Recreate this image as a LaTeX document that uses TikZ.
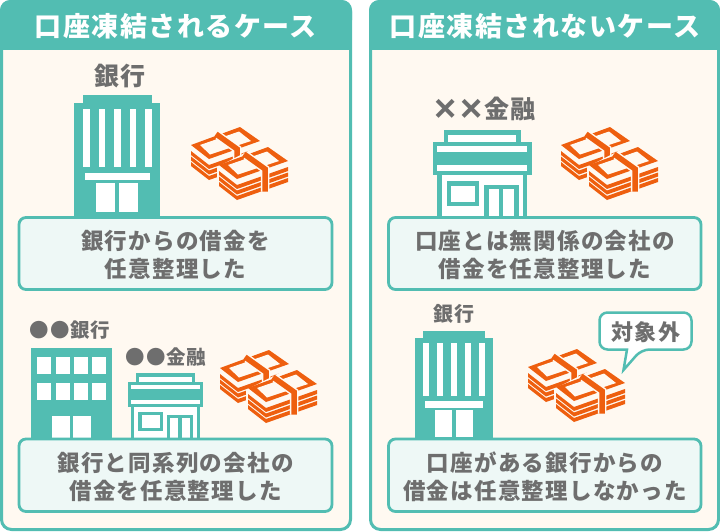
\documentclass[tikz,border=0pt]{standalone}
\usepackage{fontspec}
\setmainfont{Noto Sans CJK JP}
\newfontfamily\crossfont{Liberation Sans}
\usetikzlibrary{positioning}
\definecolor{teal1}{HTML}{52BDB2}
\definecolor{cream1}{HTML}{FFF9F1}
\definecolor{pale1}{HTML}{EEF8F6}
\definecolor{gray1}{HTML}{6E6E6E}
\definecolor{money1}{HTML}{EE5F0F}
\newcommand{\spaced}[2]{\fontsize{#1}{28}\selectfont\addfontfeature{LetterSpace=#2}\bfseries}
\newcommand{\bigcross}{\makebox[26pt]{\raisebox{-3pt}{\fontsize{38}{38}\crossfont\bfseries ×}}}
\tikzset{
    panel/.style={draw=teal1, line width=3pt, fill=cream1, rounded corners=10pt},
    header/.style={fill=teal1, rounded corners=10pt},
    textbox/.style={draw=teal1, line width=2.8pt, fill=pale1, rounded corners=7pt},
    title/.style={text=white, inner sep=0pt, font=\spaced{27}{5.5}},
    caption/.style={text=gray1, inner sep=0pt, align=center, font=\spaced{22.5}{5.5}},
    tag/.style={text=gray1, inner sep=0pt},
    moneystack/.pic={
        \fill[money1] (0,0) -- (49,-18) -- (69,-4) -- (18,14) -- cycle;
        \fill[cream1] (9,0) -- (48,-13.5) -- (60,-4) -- (19,9.5) -- cycle;
        \foreach \h in {6,11.5,17} {
            \fill[money1] (0,\h) -- (18,14+\h) -- (69,-4+\h) -- (69,\h) -- (18,18+\h) -- (0,4+\h) -- cycle;
        }
        \draw[cream1, line width=8.5pt] (27,-9.5) -- (46,4) -- (46,26.5);
        \draw[money1, line width=5.5pt] (25,-11) -- (46,4) -- (46,26.5);
    },
    moneypile/.pic={
        \pic at (0,0) {moneystack};
        \fill[cream1] (26,22) -- (26,42) -- (46,55) -- (99,38) -- (99,10) -- (77,-4) -- cycle;
        \pic at (28,20) {moneystack};
    },
    towerbank/.pic={
        \fill[teal1] (8.7,0) rectangle (77.7,8);
        \fill[teal1] (0,8) rectangle (86,121);
        \foreach \x in {9,24.5,40,55.5,71} {
            \fill[white] (\x,13.7) rectangle (\x+6.5,71.7);
        }
        \fill[white] (10.7,78) rectangle (75.7,85);
        \fill[white] (21.7,88) rectangle (41,117);
        \fill[white] (45.3,88) rectangle (64.3,117);
    },
    shopfront/.pic={
        \fill[teal1] (11,0) rectangle (87.7,17);
        \fill[white] (15.3,5) rectangle (83.3,11.7);
        \fill[teal1] (0,11.7) rectangle (98.7,45);
        \fill[white] (4.3,16) rectangle (94.3,21.7);
        \fill[white] (4.3,35.3) rectangle (94.3,41);
        \fill[teal1] (4.3,45) rectangle (94.3,86);
        \fill[white] (8.7,45) rectangle (90,86);
        \fill[teal1] (14,51.3) rectangle (46,76);
        \fill[white] (18.3,55.7) rectangle (42,71.7);
        \fill[teal1] (51.3,54.7) rectangle (85.7,86);
        \fill[white] (55.7,59) rectangle (66,86);
        \fill[white] (70.3,59) rectangle (81.3,86);
    },
}
\begin{document}
\begin{tikzpicture}[x=1pt, y=-1pt]
    \useasboundingbox (0,0) rectangle (720,531);
    % left side
    \draw[panel] (1.5,1.5) rectangle (350.5,529.5);
    \fill[header] (0,0) rectangle (352,30);
    \fill[teal1] (0,20) rectangle (352,50);
    \node (lefttitle) at (176,26) [title] {口座凍結されるケース};
    \node (banklabel) at (120,76) [tag, font=\spaced{25}{4}] {銀行};
    \pic at (74,95) {towerbank};
    \pic at (191,145) {moneypile};
    \draw[textbox] (19,217.5) rectangle (332,289.5);
    \node (case1) at (175.5,255) [caption] {銀行からの借金を\\任意整理した};
    \node (group1) at (70,330) [tag, font=\spaced{19.5}{4}] {●●銀行};
    \fill[teal1] (31,347.7) rectangle (112.3,440);
    \foreach \x in {37.3,55.7,74,92.3} {
        \fill[white] (\x,357.3) rectangle (\x+14,374);
        \fill[white] (\x,383.3) rectangle (\x+14,400);
    }
    \fill[white] (52,415.7) rectangle (70.3,440);
    \fill[white] (73,415.7) rectangle (91.3,440);
    \node (group2) at (166,357) [tag, font=\spaced{19.5}{4}] {●●金融};
    \pic[scale=0.766] at (127.7,372.7) {shopfront};
    \pic at (220,368) {moneypile};
    \draw[textbox] (19,439) rectangle (332,511.5);
    \node (case2) at (175.5,476.5) [caption] {銀行と同系列の会社の\\借金を任意整理した};
    % right side
    \draw[panel] (370.5,1.5) rectangle (718.5,529.5);
    \fill[header] (369,0) rectangle (720,30);
    \fill[teal1] (369,20) rectangle (720,50);
    \node (righttitle) at (545,26) [title] {口座凍結されないケース};
    \node (otherlabel) at (484,109) [tag, font=\spaced{25}{4}] {\bigcross\bigcross 金融};
    \pic at (433,130) {shopfront};
    \pic at (561,145) {moneypile};
    \draw[textbox] (388.5,217.5) rectangle (701,289.5);
    \node (case3) at (545,255) [caption] {口座とは無関係の会社の\\借金を任意整理した};
    \node (banklabel2) at (454,314) [tag, font=\spaced{20}{3}] {銀行};
    \pic[scale=0.903] at (415,331) {towerbank};
    \pic at (528,367) {moneypile};
    \draw[draw=teal1, line width=2.5pt, fill=white, rounded corners=8pt] (599.5,312.5) -- (691.5,312.5) -- (691.5,349.5) -- (641.5,349.5) [sharp corners] -- (623.5,370) -- (627,349.5) [rounded corners=8pt] -- (599.5,349.5) -- cycle;
    \node (outside) at (646,332) [tag, font=\spaced{22}{6}] {対象外};
    \draw[textbox] (388.5,439) rectangle (701,511.5);
    \node (case4) at (545,476.5) [caption] {口座がある銀行からの\\借金は任意整理しなかった};
\end{tikzpicture}
\end{document}
